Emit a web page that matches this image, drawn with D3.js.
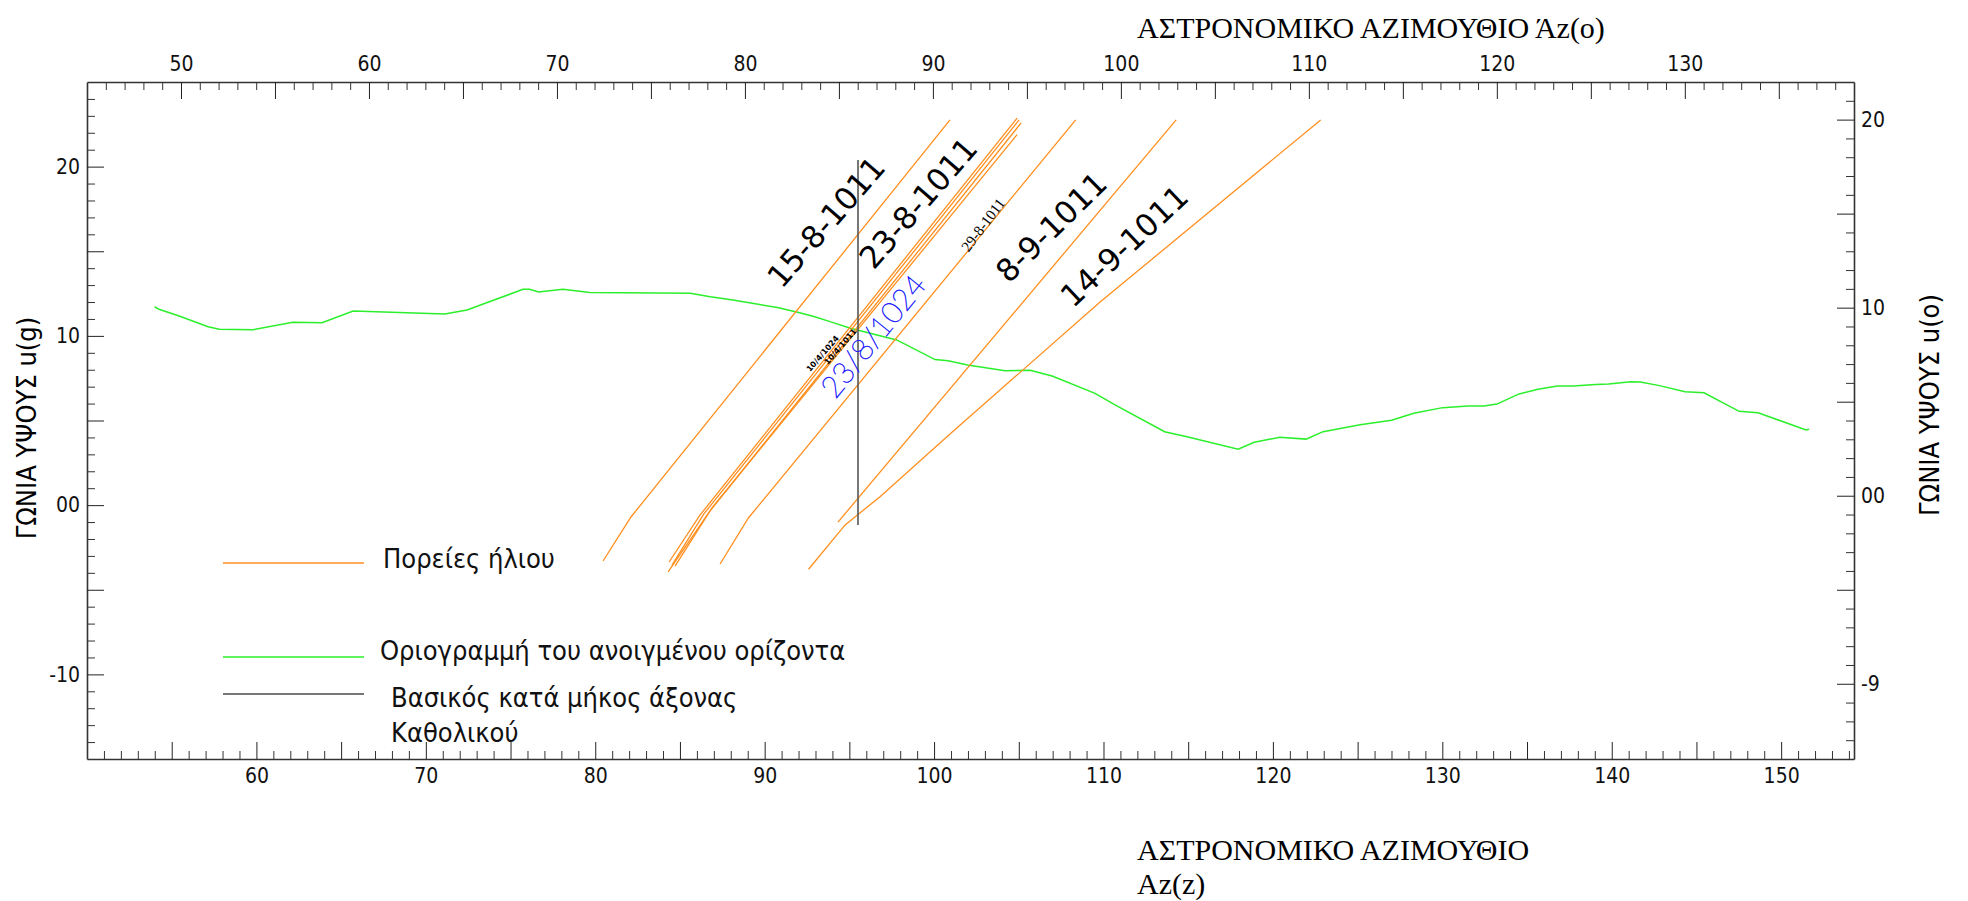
<!DOCTYPE html>
<html lang="el">
<head>
<meta charset="utf-8" />
<script src="https://cdn.jsdelivr.net/npm/d3@7"></script>
<style>
  body { margin: 0; background: #fff; }
</style>
</head>
<body>
<svg id="chart" width="1968" height="901"></svg>
<script>
// horizon profile, bottom azimuth Az(z) / left altitude u(g)
var horizonAz = [53.99, 54.25, 55.44, 57.15, 57.81, 59.79, 62.15, 63.87, 65.71, 71.12, 72.43, 75.73, 76.12, 76.65, 78.10, 79.68,
  85.61, 86.79, 88.13, 90.75, 92.07, 92.95, 93.86, 95.06, 97.79, 100.06, 100.83, 101.98, 104.19, 105.67, 106.97, 109.50,
  110.68, 113.61, 114.99, 117.95, 118.89, 120.40, 121.96, 122.96, 125.15, 127.00, 128.32, 130.02, 131.52, 132.47, 133.22,
  134.53, 135.65, 136.79, 137.72, 139.05, 139.81, 141.13, 141.69, 142.82, 144.33, 145.45, 147.52, 148.64, 151.47, 151.65];
var horizonAlt = [11.72, 11.57, 11.17, 10.54, 10.39, 10.36, 10.80, 10.78, 11.47, 11.29, 11.53, 12.75, 12.75, 12.59, 12.75, 12.57,
  12.52, 12.31, 12.12, 11.67, 11.37, 11.13, 10.84, 10.45, 9.76, 8.60, 8.53, 8.28, 7.94, 7.97, 7.63, 6.60,
  5.92, 4.34, 4.03, 3.30, 3.71, 4.01, 3.90, 4.34, 4.75, 5.01, 5.43, 5.76, 5.86, 5.86, 5.97,
  6.57, 6.84, 7.04, 7.04, 7.12, 7.16, 7.29, 7.28, 7.06, 6.70, 6.64, 5.54, 5.46, 4.44, 4.48];

// sun paths (same axes)
var sunPathAz = [
  [80.46, 82.11, 100.94],               // 15-8-1011
  [84.36, 86.19, 104.90],               // 23-8-1011 bundle
  [84.53, 86.41, 105.02],
  [84.30, 85.60, 86.72, 105.14],
  [84.71, 86.89, 104.90],
  [87.37, 89.04, 108.36],               // 29-8-1011
  [94.33, 114.29],                      // 8-9-1011
  [92.59, 94.75, 96.81, 100.94, 109.80, 122.82]  // 14-9-1011
];
var sunPathAlt = [
  [-3.30, -0.70, 22.76],
  [-3.36, -0.58, 22.87],
  [-3.54, -0.52, 22.76],
  [-3.95, -2.06, -0.41, 22.58],
  [-3.60, -0.17, 21.89],
  [-3.48, -0.76, 22.76],
  [-1.00, 22.76],
  [-3.79, -1.17, 0.50, 4.20, 12.00, 22.76]
];

// main axis of the Katholikon
var churchAxisAz = [95.51, 95.51];
var churchAxisAlt = [-1.17, 20.39];

var dateLabels = ["15-8-1011", "23-8-1011", "29-8-1011", "8-9-1011", "14-9-1011", "23/8/1024", "10/4/1024", "10/4/1011"];
var dateLabelAz = [93.62, 99.06, 102.89, 106.91, 111.22, 96.34, 93.43, 94.48];
var dateLabelAlt = [16.73, 17.85, 16.55, 16.43, 15.31, 10.05, 8.94, 9.36];

var legendLabels = ["Πορείες ήλιου", "Οριογραμμή του ανοιγμένου ορίζοντα", "Βασικός κατά μήκος άξονας", "Καθολικού"];

var bottomTickVals = [60, 70, 80, 90, 100, 110, 120, 130, 140, 150];
var topTickVals = [50, 60, 70, 80, 90, 100, 110, 120, 130];
var leftTickVals = [20, 10, 0, -10];
var leftTickText = ["20", "10", "00", "-10"];
var rightTickVals = [20, 10, 0, -10];
var rightTickText = ["20", "10", "00", "-9"];

var sansC = '"DejaVu Sans Condensed", "Liberation Sans Narrow", "DejaVu Sans", sans-serif';
var serif = '"Liberation Serif", "DejaVu Serif", serif';

var svg = d3.select("#chart");
var x = d3.scaleLinear().domain([50, 154.3]).range([87, 1854]);
var y = d3.scaleLinear().domain([-15, 25]).range([759, 82]);
var xTop = d3.scaleLinear().domain([45, 139]).range([87, 1854]);
var yRight = d3.scaleLinear().domain([-14, 22]).range([759, 82]);

function ints(a, b) { return d3.range(a, b + 1); }

function drawAxis(axisFn, scale, tr, minorVals, majorVals, labelVals, labelText, pad) {
  var gm = svg.append("g").attr("transform", tr);
  gm.call(axisFn(scale).tickValues(minorVals).tickSize(-8).tickSizeOuter(0).tickFormat(""));
  gm.select(".domain").remove();
  gm.selectAll(".tick line").attr("stroke", "#333");
  var g = svg.append("g").attr("transform", tr);
  g.call(axisFn(scale).tickValues(majorVals).tickSize(-17).tickSizeOuter(0).tickPadding(pad)
    .tickFormat(function(d) {
      var i = labelVals.indexOf(d);
      return i < 0 ? "" : (labelText ? labelText[i] : String(d));
    }));
  g.attr("font-family", sansC).attr("font-size", 21);
  g.select(".domain").attr("stroke", "#333").attr("stroke-width", 1.6);
  g.selectAll(".tick line").attr("stroke", "#222");
  g.selectAll(".tick text").attr("fill", "#111");
  return g;
}

function multiples(a, b, step) { return ints(a, b).filter(function(v) { return v % step === 0; }); }
function notMultiples(a, b, step) { return ints(a, b).filter(function(v) { return v % step !== 0; }); }

drawAxis(d3.axisBottom, x, "translate(0,759)", notMultiples(51, 154, 5), multiples(51, 154, 5), bottomTickVals, null, 9);
drawAxis(d3.axisTop, xTop, "translate(0,82)", notMultiples(46, 138, 5), multiples(46, 138, 5), topTickVals, null, 11);
drawAxis(d3.axisLeft, y, "translate(87,0)", notMultiples(-14, 24, 5), multiples(-14, 24, 5), leftTickVals, leftTickText, 7);
drawAxis(d3.axisRight, yRight, "translate(1854,0)", notMultiples(-13, 21, 5), multiples(-13, 21, 5), rightTickVals, rightTickText, 7);

// horizon line
var line = d3.line().x(function(d) { return x(d[0]); }).y(function(d) { return y(d[1]); });
svg.append("path")
  .attr("d", line(d3.zip(horizonAz, horizonAlt)))
  .attr("fill", "none").attr("stroke", "#2bef2b").attr("stroke-width", 1.5);

// sun paths
sunPathAz.forEach(function(az, i) {
  svg.append("path")
    .attr("d", line(d3.zip(az, sunPathAlt[i])))
    .attr("fill", "none").attr("stroke", "#ff8f1f").attr("stroke-width", 1.3);
});

// church axis
svg.append("path")
  .attr("d", line(d3.zip(churchAxisAz, churchAxisAlt)))
  .attr("stroke", "#555").attr("stroke-width", 1.6);

// date labels
var dejavu = '"DejaVu Sans", sans-serif';
var labelStyle = [
  { size: 31, family: dejavu, fill: "#000", rot: -49, weight: 400 },
  { size: 31, family: dejavu, fill: "#000", rot: -49, weight: 400 },
  { size: 15, family: serif, fill: "#000", rot: -53, weight: 400 },
  { size: 31, family: dejavu, fill: "#000", rot: -44.5, weight: 400 },
  { size: 31, family: dejavu, fill: "#000", rot: -43, weight: 400 },
  { size: 30, family: '"DejaVu Sans ExtraLight", "Lato", sans-serif', fill: "#1f1fff", rot: -51, weight: 200, stroke: 0.7 },
  { size: 8, family: dejavu, fill: "#000", rot: -49, weight: 700 },
  { size: 8, family: dejavu, fill: "#000", rot: -49, weight: 700 }
];
dateLabels.forEach(function(t, i) {
  var s = labelStyle[i];
  var txt = svg.append("text")
    .attr("transform", "translate(" + x(dateLabelAz[i]) + "," + y(dateLabelAlt[i]) + ") rotate(" + s.rot + ")")
    .attr("text-anchor", "middle").attr("dominant-baseline", "central")
    .attr("font-family", s.family).attr("font-size", s.size).attr("font-weight", s.weight)
    .attr("fill", s.fill).text(t);
  if (s.stroke) txt.attr("stroke", s.fill).attr("stroke-width", s.stroke);
});

// legend
var legendColors = ["#ff8f1f", "#2bef2b", "#777"];
var legendLineY = [563, 657, 694];
var legendTextY = [568, 660, 707, 742];
var legendTextX = [383, 380, 391, 391];
legendColors.forEach(function(c, i) {
  svg.append("line").attr("x1", 223).attr("x2", 364).attr("y1", legendLineY[i]).attr("y2", legendLineY[i])
    .attr("stroke", c).attr("stroke-width", i === 2 ? 2 : 1.5);
});
legendLabels.forEach(function(t, i) {
  svg.append("text").attr("x", legendTextX[i]).attr("y", legendTextY[i])
    .attr("font-family", sansC).attr("font-size", 27).attr("fill", "#111").text(t);
});

// axis titles
svg.append("text").attr("x", 1137).attr("y", 38).attr("font-family", serif).attr("font-size", 30)
  .attr("fill", "#000").text("ΑΣΤΡΟΝΟΜΙΚΟ ΑΖΙΜΟΥΘΙΟ Άz(o)");
svg.append("text").attr("x", 1137).attr("y", 860).attr("font-family", serif).attr("font-size", 30)
  .attr("fill", "#000").text("ΑΣΤΡΟΝΟΜΙΚΟ ΑΖΙΜΟΥΘΙΟ");
svg.append("text").attr("x", 1137).attr("y", 894).attr("font-family", serif).attr("font-size", 30)
  .attr("fill", "#000").text("Az(z)");
svg.append("text").attr("transform", "translate(36,428) rotate(-90)").attr("text-anchor", "middle")
  .attr("font-family", sansC).attr("font-size", 27).attr("fill", "#000").text("ΓΩΝΙΑ ΥΨΟΥΣ u(g)");
svg.append("text").attr("transform", "translate(1939,405) rotate(-90)").attr("text-anchor", "middle")
  .attr("font-family", sansC).attr("font-size", 27).attr("fill", "#000").text("ΓΩΝΙΑ ΥΨΟΥΣ u(o)");
</script>
</body>
</html>
